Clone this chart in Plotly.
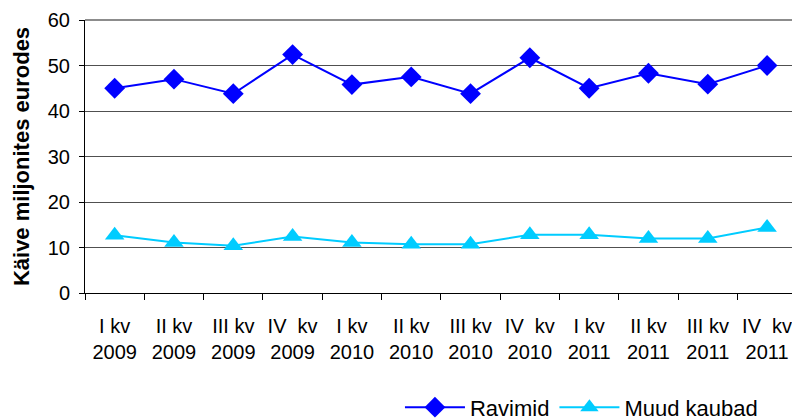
import plotly.graph_objects as go

quarters = ["I kv", "II kv", "III kv", "IV  kv"] * 3
years = ["2009"] * 4 + ["2010"] * 4 + ["2011"] * 4
categories = [f"{q}<br>{y}" for q, y in zip(quarters, years)]

ravimid = [45.0, 47.0, 43.8, 52.4, 45.8, 47.5, 43.8, 51.7, 45.0, 48.3, 45.9, 50.0]
muud_kaubad = [12.7, 11.1, 10.4, 12.4, 11.1, 10.7, 10.7, 12.8, 12.8, 12.0, 12.0, 14.4]

y_ticks = [0, 10, 20, 30, 40, 50, 60]

fig = go.Figure()
fig.add_trace(go.Scatter(
    x=categories, y=ravimid, name="Ravimid", mode="lines+markers",
    line=dict(color="#0000FF", width=2),
    marker=dict(symbol="diamond", size=16, color="#0000FF"),
))
fig.add_trace(go.Scatter(
    x=categories, y=muud_kaubad, name="Muud kaubad", mode="lines+markers",
    line=dict(color="#00CCFF", width=2),
    marker=dict(symbol="triangle-up", size=17, color="#00CCFF"),
))

fig.update_layout(
    width=792, height=420,
    margin=dict(l=85, r=0, t=20, b=127),
    paper_bgcolor="white", plot_bgcolor="white",
    font=dict(family="Liberation Sans, Arial, sans-serif", size=20, color="black"),
    showlegend=True,
    legend=dict(orientation="h", xref="container", yref="container",
                x=0.505, xanchor="left", y=0.03, yanchor="middle",
                font=dict(size=22), itemwidth=60, tracegroupgap=0,
                bgcolor="rgba(0,0,0,0)"),
)
fig.update_xaxes(
    type="category", range=[-0.5, 11.42], automargin=False,
    showline=True, linecolor="black", linewidth=1,
    ticks="outside", ticklen=6, tickcolor="black", tickson="boundaries",
    ticklabelstandoff=15,
    showgrid=False, tickfont=dict(size=20),
)
fig.update_yaxes(
    range=[0, 60], tickvals=y_ticks, automargin=False,
    showline=True, linecolor="black", linewidth=1,
    ticks="outside", ticklen=5, tickcolor="black", ticklabelstandoff=5,
    showgrid=True, gridcolor="#505050", gridwidth=1,
    zeroline=False, tickfont=dict(size=20),
    title=dict(text="<b>Käive miljonites eurodes</b>", font=dict(size=22), standoff=12),
)
fig.add_shape(type="line", xref="paper", yref="y domain", x0=0, x1=1, y0=1, y1=1,
              line=dict(color="#8C8C8C", width=2))

fig.write_html("out.html", config={"displayModeBar": False},
               post_script="document.body.style.margin='0';")
